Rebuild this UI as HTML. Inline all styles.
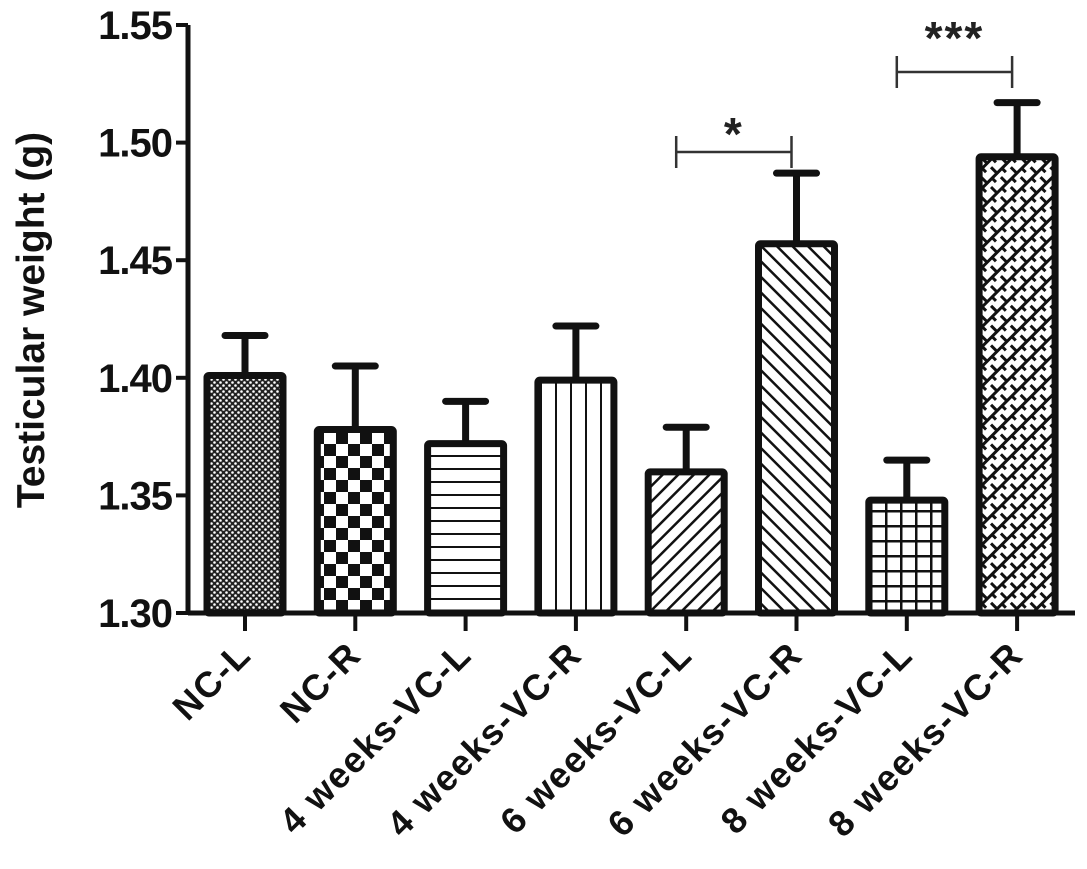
<!DOCTYPE html>
<html><head><meta charset="utf-8"><style>
html,body{margin:0;padding:0;background:#fff;}
svg{display:block;font-family:"Liberation Sans",Arial,sans-serif;}
</style></head><body>
<svg id="chart" width="1087" height="869" viewBox="0 0 1087 869">
<defs>
<pattern id="p0" width="6" height="6" patternUnits="userSpaceOnUse"><rect width="6" height="6" fill="#222"/><circle cx="1.5" cy="1.5" r="1.3" fill="#fff"/><circle cx="4.5" cy="4.5" r="1.3" fill="#fff"/></pattern>
<pattern id="p1" width="24" height="24" patternUnits="userSpaceOnUse"><rect width="24" height="24" fill="#fff"/><rect x="0" y="0" width="12" height="12" fill="#111"/><rect x="12" y="12" width="12" height="12" fill="#111"/></pattern>
<pattern id="p2" width="10" height="13" patternUnits="userSpaceOnUse"><rect width="10" height="13" fill="#fff"/><rect y="0" width="10" height="2" fill="#111"/></pattern>
<pattern id="p3" width="15" height="10" patternUnits="userSpaceOnUse"><rect width="15" height="10" fill="#fff"/><rect x="0" width="2" height="10" fill="#111"/></pattern>
<pattern id="p4" width="11" height="11" patternUnits="userSpaceOnUse" patternTransform="rotate(45)"><rect width="11" height="11" fill="#fff"/><rect x="0" width="2.5" height="11" fill="#111"/></pattern>
<pattern id="p5" width="11" height="11" patternUnits="userSpaceOnUse" patternTransform="rotate(-45)"><rect width="11" height="11" fill="#fff"/><rect x="0" width="2.5" height="11" fill="#111"/></pattern>
<pattern id="p6" width="15" height="15" patternUnits="userSpaceOnUse"><rect width="15" height="15" fill="#fff"/><rect width="2.5" height="15" fill="#111"/><rect width="15" height="2.5" fill="#111"/></pattern>
<pattern id="p7" width="14" height="14" patternUnits="userSpaceOnUse" patternTransform="rotate(-45)"><rect width="14" height="14" fill="#fff"/><rect width="14" height="3" fill="#111"/><rect x="0" y="0" width="3" height="7" fill="#111"/><rect x="7" y="7" width="3" height="7" fill="#111"/></pattern>
</defs>
<g id="plot"></g>
</svg>
<script>
const categories=["NC-L","NC-R","4 weeks-VC-L","4 weeks-VC-R","6 weeks-VC-L","6 weeks-VC-R","8 weeks-VC-L","8 weeks-VC-R"];
const means=[1.401,1.378,1.372,1.399,1.360,1.457,1.348,1.494];
const errors=[0.017,0.027,0.018,0.023,0.019,0.030,0.017,0.023];
const yTicks=[1.30,1.35,1.40,1.45,1.50,1.55];
const sigPairs=[[4,5,"*"],[6,7,"***"]];
const sigLevels=[1.496,1.530];
const NS="http://www.w3.org/2000/svg";
const g=document.getElementById('plot');
const y0=613,y1=25,vmin=1.30,vmax=1.55,axX=188,firstX=245,step=110.3,bw=76;
function yS(v){return y0-(v-vmin)/(vmax-vmin)*(y0-y1);}
function xS(i){return firstX+i*step;}
function mk(t,a){const e=document.createElementNS(NS,t);for(const k in a)e.setAttribute(k,a[k]);g.appendChild(e);return e;}
categories.forEach((c,i)=>{
 const cx=xS(i),top=yS(means[i]),et=yS(means[i]+errors[i]);
 const ln=mk('line',{x1:cx,x2:cx,y1:top,y2:et,stroke:'#111','stroke-width':7});
 
 
 const cap=mk('line',{x1:cx-20,x2:cx+20,y1:et,y2:et,stroke:'#111','stroke-width':7,'stroke-linecap':'round'});
 
 
 const r=mk('rect',{x:cx-bw/2,y:top,width:bw,height:y0-top,fill:'url(#p'+i+')',stroke:'#111','stroke-width':7,rx:2});
 
 
 const tk=mk('line',{x1:cx,x2:cx,y1:y0,y2:y0+18,stroke:'#111','stroke-width':4});
 
 
 const ax=cx+8,ay=y0+44;
 const t=mk('text',{x:ax,y:ay,'font-size':36,'font-weight':'bold','text-anchor':'end','letter-spacing':1.6,transform:`rotate(-45 ${ax} ${ay})`,fill:'#111'});
 t.textContent=c;
 
 
});
const ya=mk('line',{x1:axX,x2:axX,y1:y1,y2:y0+2,stroke:'#111','stroke-width':5});


const xa=mk('line',{x1:axX,x2:1075,y1:y0,y2:y0,stroke:'#111','stroke-width':5});


yTicks.forEach((v,i)=>{
 const yy=yS(v);
 const tk=mk('line',{x1:axX-12,x2:axX,y1:yy,y2:yy,stroke:'#111','stroke-width':4});
 
 
 const t=mk('text',{x:axX-16,y:yy+14,'font-size':40,'font-weight':'bold','text-anchor':'end','letter-spacing':-1,fill:'#111'});
 t.textContent=v.toFixed(2);
 
 
});
const yt=mk('text',{x:0,y:0,'font-size':39,'font-weight':'bold','text-anchor':'middle',transform:`translate(44 320) rotate(-90)`,fill:'#111'});
yt.textContent='Testicular weight (g)';


sigPairs.forEach((p,k)=>{
 const yy=yS(sigLevels[k]),xa1=xS(p[0])-10,xb=xS(p[1])-5;
 const l=mk('path',{d:`M${xa1} ${yy-16}V${yy+16}M${xa1} ${yy}H${xb}M${xb} ${yy-16}V${yy+16}`,fill:'none',stroke:'#333','stroke-width':2.5});
 
 
 const t=mk('text',{x:(xa1+xb)/2,y:yy-(k?18:2),'font-size':46,'font-weight':'bold','text-anchor':'middle','letter-spacing':2,fill:'#222'});
 t.textContent=p[2];
 
 
});
</script>
</body></html>
